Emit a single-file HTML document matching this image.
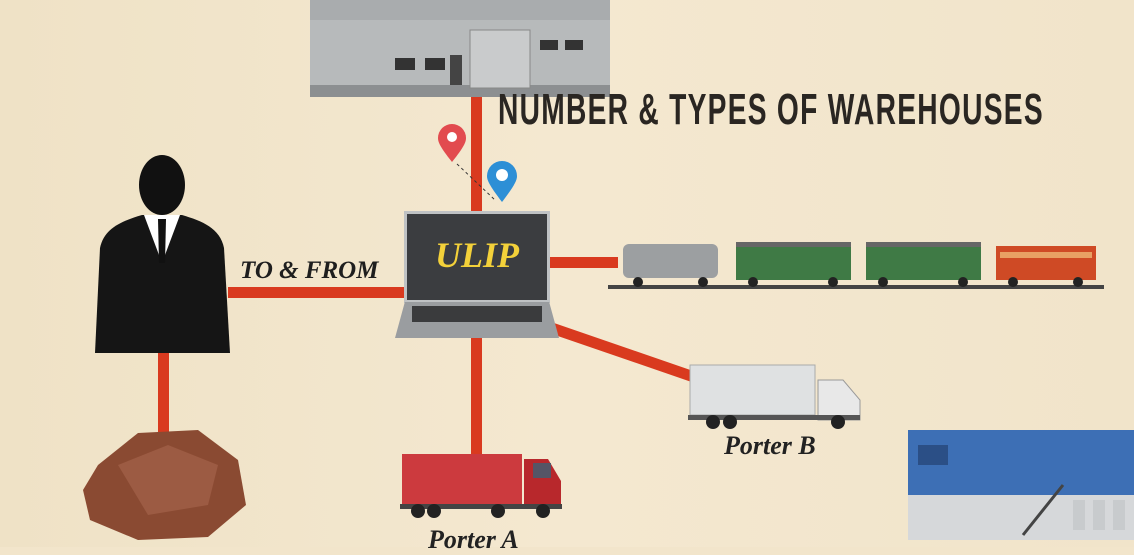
<!DOCTYPE html>
<html><head><meta charset="utf-8"><style>
body{margin:0;width:1134px;height:547px;overflow:hidden;background:#f2e5cb;font-family:"Liberation Sans",sans-serif;position:relative}
.a{position:absolute}
.red{background:#d93a1f}
</style></head><body>
<div class="a" style="left:0;top:0;width:1134px;height:547px;background:linear-gradient(90deg,#efe2c6,#f4e8d0 50%,#f1e4ca)"></div>

<div class="a red" style="left:471px;top:95px;width:11px;height:120px"></div>
<div class="a red" style="left:228px;top:287px;width:180px;height:11px"></div>
<div class="a red" style="left:546px;top:257px;width:72px;height:11px"></div>
<div class="a red" style="left:471px;top:335px;width:11px;height:122px"></div>
<div class="a red" style="left:158px;top:352px;width:11px;height:80px"></div>
<div class="a red" style="left:553px;top:323px;width:148px;height:11px;transform-origin:0 50%;transform:rotate(19deg)"></div>

<svg class="a" style="left:300px;top:0" width="320" height="102">
<polygon points="10,0 310,0 310,85 10,95" fill="#a9acae"/>
<rect x="10" y="20" width="300" height="72" fill="#b7babb"/>
<rect x="10" y="85" width="300" height="12" fill="#8c8f91"/>
<rect x="170" y="30" width="60" height="58" fill="#c9cbcc" stroke="#888"/>
<rect x="95" y="58" width="20" height="12" fill="#333"/><rect x="125" y="58" width="20" height="12" fill="#333"/>
<rect x="240" y="40" width="18" height="10" fill="#333"/><rect x="265" y="40" width="18" height="10" fill="#333"/>
<rect x="150" y="55" width="12" height="30" fill="#444"/>
</svg>
<div class="a" style="left:498px;top:88px;font-size:44px;line-height:44px;font-weight:bold;letter-spacing:2px;color:#2a2622;white-space:nowrap;transform:scaleX(0.64);transform-origin:0 0">NUMBER &amp; TYPES OF WAREHOUSES</div>

<svg class="a" style="left:435px;top:122px" width="90" height="85">
<path d="M17,40 C5,25 3,20 3,16 A14,14 0 0 1 31,16 C31,20 29,25 17,40Z" fill="#e24b4f"/><circle cx="17" cy="15" r="5" fill="#fff"/>
<path d="M67,80 C54,63 52,58 52,54 A15,15 0 0 1 82,54 C82,58 80,63 67,80Z" fill="#2d8fd6"/><circle cx="67" cy="53" r="6" fill="#fff"/>
<line x1="22" y1="42" x2="60" y2="78" stroke="#333" stroke-dasharray="3,3"/>
</svg>

<div class="a" style="left:404px;top:211px;width:146px;height:92px;background:#3b3d40;border:3px solid #bfc2c4;box-sizing:border-box">
<div style="position:absolute;left:0;right:0;top:20px;text-align:center;font-family:'Liberation Serif',serif;font-style:italic;font-weight:bold;font-size:36px;color:#f3d13a">ULIP</div></div>
<div class="a" style="left:395px;top:302px;width:164px;height:36px;background:#9a9da0;clip-path:polygon(6% 0,94% 0,100% 100%,0 100%)"></div>
<div class="a" style="left:412px;top:306px;width:130px;height:16px;background:#3a3b3d"></div>

<svg class="a" style="left:92px;top:153px" width="140" height="205">
<ellipse cx="70" cy="32" rx="23" ry="30" fill="#111"/>
<path d="M3,200 L8,95 C12,75 30,68 50,62 L90,62 C110,68 128,75 132,95 L138,200Z" fill="#151515"/>
<polygon points="52,62 70,110 88,62" fill="#fff"/><polygon points="66,66 74,66 73,110 67,110" fill="#111"/>
</svg>
<div class="a" style="left:240px;top:257px;font-family:'Liberation Serif',serif;font-style:italic;font-weight:bold;font-size:25px;color:#1e1e1e;white-space:nowrap">TO &amp; FROM</div>

<svg class="a" style="left:78px;top:425px" width="170" height="118">
<path d="M20,40 L60,8 L120,5 L160,35 L168,80 L130,112 L60,115 L12,95 L5,65Z" fill="#8a4a32"/>
<path d="M40,40 L90,20 L140,40 L130,80 L70,90Z" fill="#a4634a" opacity=".7"/>
</svg>

<svg class="a" style="left:608px;top:232px" width="496" height="64">
<rect x="0" y="53" width="496" height="4" fill="#444"/>
<rect x="15" y="12" width="95" height="34" rx="6" fill="#9c9fa1"/>
<rect x="128" y="12" width="115" height="36" fill="#3f7a45"/><rect x="128" y="10" width="115" height="5" fill="#666"/>
<rect x="258" y="12" width="115" height="36" fill="#3f7a45"/><rect x="258" y="10" width="115" height="5" fill="#666"/>
<rect x="388" y="14" width="100" height="34" fill="#cf4a25"/><rect x="392" y="20" width="92" height="6" fill="#e8a064"/>
<g fill="#222"><circle cx="30" cy="50" r="5"/><circle cx="95" cy="50" r="5"/><circle cx="145" cy="50" r="5"/><circle cx="225" cy="50" r="5"/><circle cx="275" cy="50" r="5"/><circle cx="355" cy="50" r="5"/><circle cx="405" cy="50" r="5"/><circle cx="470" cy="50" r="5"/></g>
</svg>

<svg class="a" style="left:688px;top:362px" width="178" height="70">
<rect x="2" y="3" width="125" height="50" fill="#dfe1e2" stroke="#aaa"/>
<path d="M130,18 L155,18 L172,38 L172,58 L130,58Z" fill="#e8e8e8" stroke="#999"/>
<rect x="0" y="53" width="172" height="5" fill="#555"/>
<g fill="#222"><circle cx="25" cy="60" r="7"/><circle cx="42" cy="60" r="7"/><circle cx="150" cy="60" r="7"/></g>
</svg>
<div class="a" style="left:724px;top:431px;font-family:'Liberation Serif',serif;font-style:italic;font-weight:bold;font-size:26px;color:#222">Porter B</div>

<svg class="a" style="left:398px;top:451px" width="168" height="68">
<rect x="4" y="3" width="120" height="50" fill="#cc3a3e"/>
<path d="M126,8 L150,8 L163,30 L163,55 L126,55Z" fill="#b8282c"/><rect x="135" y="12" width="18" height="15" fill="#556"/>
<rect x="2" y="53" width="162" height="5" fill="#444"/>
<g fill="#222"><circle cx="20" cy="60" r="7"/><circle cx="36" cy="60" r="7"/><circle cx="100" cy="60" r="7"/><circle cx="145" cy="60" r="7"/></g>
</svg>
<div class="a" style="left:428px;top:525px;font-family:'Liberation Serif',serif;font-style:italic;font-weight:bold;font-size:26px;color:#222">Porter A</div>

<svg class="a" style="left:903px;top:425px" width="231" height="118">
<rect x="5" y="5" width="226" height="65" fill="#3d6fb5"/>
<rect x="5" y="70" width="226" height="45" fill="#d6d8da"/>
<rect x="15" y="20" width="30" height="20" fill="#2b4f86"/>
<g fill="#c8cbcd"><rect x="170" y="75" width="12" height="30"/><rect x="190" y="75" width="12" height="30"/><rect x="210" y="75" width="12" height="30"/></g>
<line x1="120" y1="110" x2="160" y2="60" stroke="#444" stroke-width="3"/>
</svg>
</body></html>
